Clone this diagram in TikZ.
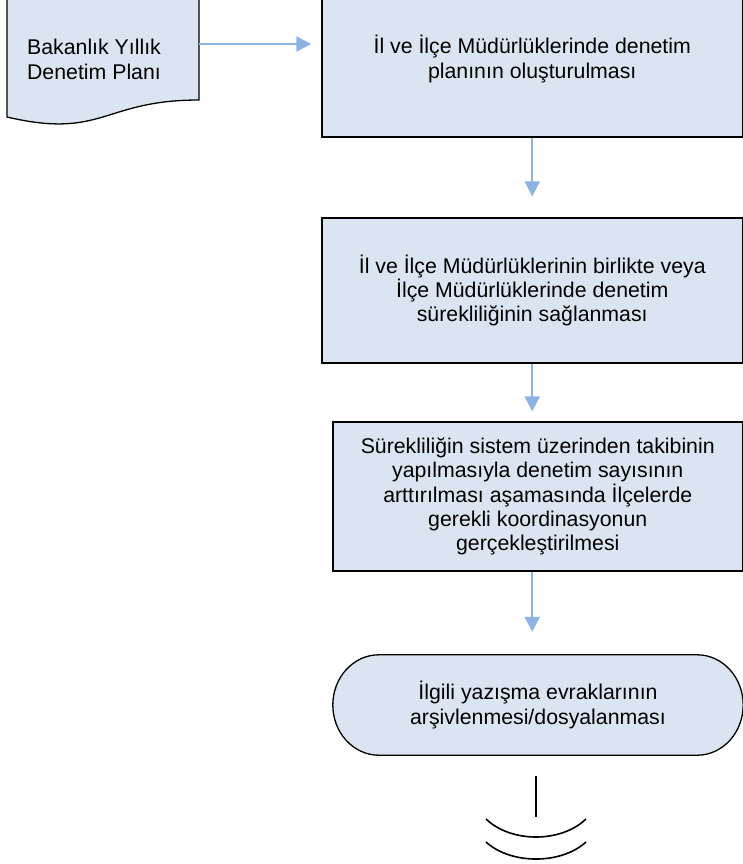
\documentclass[tikz,border=0pt]{standalone}
\usepackage{fontspec}
\setmainfont{Liberation Sans}
\usetikzlibrary{arrows.meta,calc}
\definecolor{boxfill}{RGB}{219,229,241}
\definecolor{arrowblue}{RGB}{141,179,226}
\begin{document}
\begin{tikzpicture}[x=1pt,y=-1pt,
  every node/.style={font=\fontsize{21.3}{24.3}\selectfont, align=center, inner sep=0pt},
  box/.style={draw=black, line width=1.3pt, fill=boxfill},
  shapeline/.style={draw=black, line width=1.3pt, fill=boxfill},
  arr/.style={draw=arrowblue, line width=2.2pt, -{Triangle[length=15pt,width=15pt]}},
  symline/.style={draw=black, line width=1.6pt}]
\useasboundingbox (0,0) rectangle (743,864);
% document shape (Bakanlik Yillik Denetim Plani)
\draw[shapeline] (7,-10) -- (199,-10) -- (199,100)
  .. controls (103,100) and (103,139.5) .. (7,117) -- cycle;
\node (doc) at (94,59.5) {Bakanlık Yıllık\\Denetim Planı};
\coordinate (docR) at (199,44);
% process boxes
\node[box, minimum width=420.5pt, minimum height=156pt] (b1) at (532.25,59)
  {İl ve İlçe Müdürlüklerinde denetim\\planının oluşturulması};
\node[box, minimum width=420.5pt, minimum height=145pt] (b2) at (532.25,290.5)
  {İl ve İlçe Müdürlüklerinin birlikte veya\\İlçe Müdürlüklerinde denetim\\sürekliliğinin sağlanması};
\node[box, minimum width=409.5pt, minimum height=149pt] (b3) at (537.75,496.5)
  {Sürekliliğin sistem üzerinden takibinin\\yapılmasıyla denetim sayısının\\arttırılması aşamasında İlçelerde\\gerekli koordinasyonun\\gerçekleştirilmesi};
% terminator
\node[minimum width=410pt, minimum height=100pt] (term) at (538,705) {};
\draw[shapeline] ([xshift=46pt]term.north west) -- ([xshift=-46pt]term.north east)
  .. controls ([xshift=-20.6pt]term.north east) and ([yshift=27.6pt]term.east) .. (term.east)
  .. controls ([yshift=-27.6pt]term.east) and ([xshift=-20.6pt]term.south east) .. ([xshift=-46pt]term.south east)
  -- ([xshift=46pt]term.south west)
  .. controls ([xshift=20.6pt]term.south west) and ([yshift=-27.6pt]term.west) .. (term.west)
  .. controls ([yshift=27.6pt]term.west) and ([xshift=20.6pt]term.north west) .. cycle;
\node (termtext) at (538,705) {İlgili yazışma evraklarının\\arşivlenmesi/dosyalanması};
% connectors
\draw[arr, shorten >=10pt] (docR) -- (docR -| b1.west);
\draw[arr, shorten >=21pt] (b1.south) -- (b2.north);
\draw[arr, shorten >=10pt] (b2.south) -- (b2.south |- b3.north);
\draw[arr, shorten >=23pt] (b3.south -| b2.south) -- (b2.south |- term.north);
% end symbol
\draw[symline] (536,776) -- (536,817);
\draw[symline] (486,819) .. controls (511,843) and (561,843) .. (586,819);
\draw[symline] (486,842) .. controls (511,864.7) and (561,864.7) .. (586,842);
\end{tikzpicture}
\end{document}
